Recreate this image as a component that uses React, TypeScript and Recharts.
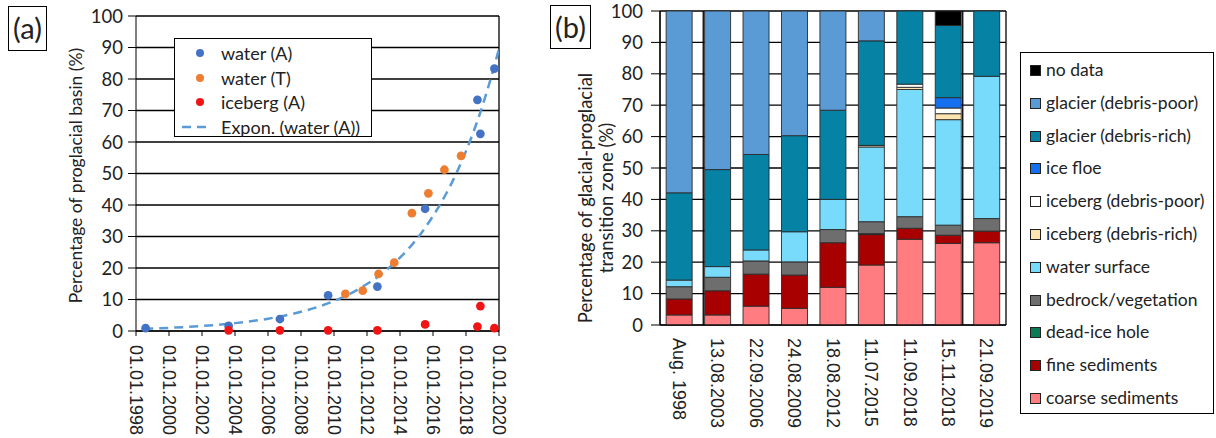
import React from 'react';
import {
  ComposedChart, Scatter, Line, XAxis, YAxis, ZAxis, CartesianGrid, ReferenceLine,
  BarChart, Bar,
} from 'recharts';

// ---------- Panel (a) data ----------
const yearTicks = [1998, 2000, 2002, 2004, 2006, 2008, 2010, 2012, 2014, 2016, 2018, 2020];
const pctTicks = [0, 10, 20, 30, 40, 50, 60, 70, 80, 90, 100];

const waterADates = ['1998-08-01', '2003-08-13', '2006-09-22', '2009-08-24', '2012-08-18', '2015-07-11', '2018-09-11', '2018-11-15', '2019-09-21'];
const waterAValues = [0.9, 1.6, 3.8, 11.3, 14.1, 38.8, 73.4, 62.6, 83.3];

const icebergADates = ['2003-08-13', '2006-09-22', '2009-08-24', '2012-08-18', '2015-07-11', '2018-09-11', '2018-11-15', '2019-09-21'];
const icebergAValues = [0.2, 0.2, 0.2, 0.2, 2.1, 1.4, 7.9, 0.9];

const waterTYears = [2010.69, 2011.74, 2012.70, 2013.65, 2014.72, 2015.72, 2016.69, 2017.70];
const waterTValues = [11.8, 12.8, 18.1, 21.7, 37.4, 43.7, 51.2, 55.6];

const trendYears = [1998.5, 2000, 2002, 2004, 2006, 2008, 2009, 2010, 2011, 2012, 2013, 2014, 2015, 2016, 2017, 2018, 2019, 2020];
const trendValues = [0.7, 1.0, 1.6, 2.5, 3.9, 6.1, 7.6, 9.5, 11.9, 14.9, 18.6, 23.3, 29.1, 36.5, 45.6, 57.1, 71.5, 89.5];

// ---------- Panel (b) data ----------
const barDates = ['Aug. 1998', '13.08.2003', '22.09.2006', '24.08.2009', '18.08.2012', '11.07.2015', '11.09.2018', '15.11.2018', '21.09.2019'];
const coarse = [3.2, 3.2, 6.0, 5.3, 12.0, 19.1, 27.3, 26.0, 26.2];
const fine = [5.1, 7.7, 10.2, 10.6, 14.2, 9.7, 3.5, 2.6, 3.7];
const deadIce = [0, 0, 0, 0, 0, 0.3, 0, 0, 0];
const bedrock = [3.9, 4.3, 4.2, 4.2, 4.2, 3.8, 3.7, 3.2, 4.0];
const waterSurface = [2.1, 3.4, 3.5, 9.6, 9.6, 23.8, 40.5, 33.6, 45.3];
const icebergRich = [0, 0, 0, 0, 0, 0.5, 0.7, 1.9, 0];
const icebergPoor = [0, 0, 0, 0, 0, 0, 1.0, 1.8, 0];
const iceFloe = [0, 0, 0, 0, 0, 0, 0, 3.3, 0];
const glacierRich = [27.8, 30.9, 30.4, 30.6, 28.4, 33.3, 23.3, 23.0, 20.8];
const glacierPoor = [57.9, 50.5, 45.7, 39.7, 31.6, 9.5, 0, 0, 0];
const noData = [0, 0, 0, 0, 0, 0, 0, 4.6, 0];

const gridBoundaries = [0, 1, 2, 3, 4, 5, 6, 7, 8, 9];

// stack order bottom -> top
const classes = [
  { key: 'coarse', name: 'coarse sediments', color: '#FF7C80', values: coarse },
  { key: 'fine', name: 'fine sediments', color: '#A80000', values: fine },
  { key: 'deadIce', name: 'dead-ice hole', color: '#0B7A55', values: deadIce },
  { key: 'bedrock', name: 'bedrock/vegetation', color: '#6E6E6E', values: bedrock },
  { key: 'water', name: 'water surface', color: '#79DBFC', values: waterSurface },
  { key: 'ibRich', name: 'iceberg (debris-rich)', color: '#FDE4B0', values: icebergRich },
  { key: 'ibPoor', name: 'iceberg (debris-poor)', color: '#FFFFFF', values: icebergPoor },
  { key: 'floe', name: 'ice floe', color: '#1570EF', values: iceFloe },
  { key: 'gRich', name: 'glacier (debris-rich)', color: '#0582A4', values: glacierRich },
  { key: 'gPoor', name: 'glacier (debris-poor)', color: '#5B9BD5', values: glacierPoor },
  { key: 'noData', name: 'no data', color: '#000000', values: noData },
];

const toYear = (s: string) => {
  const [y, m, d] = s.split('-').map(Number);
  const start = Date.UTC(y, 0, 1);
  const end = Date.UTC(y + 1, 0, 1);
  return y + (Date.UTC(y, m - 1, d) - start) / (end - start);
};

const waterA = waterADates.map((d, i) => ({ x: toYear(d), y: waterAValues[i] }));
const icebergA = icebergADates.map((d, i) => ({ x: toYear(d), y: icebergAValues[i] }));
const waterT = waterTYears.map((x, i) => ({ x, y: waterTValues[i] }));
const trend = trendYears.map((x, i) => ({ x, y: trendValues[i] }));

const barRows = barDates.map((date, i) => {
  const row: Record<string, any> = { date };
  classes.forEach((c) => { row[c.key] = c.values[i]; });
  return row;
});

const SANS = 'Lato, "Open Sans", sans-serif';
const ARIAL = '"Liberation Sans", Arial, sans-serif';
const TXT = '#222';

const RotTick = (offset: number, fmt: (v: any) => string) => (props: any) => {
  const { x, y, payload } = props;
  return (
    <g transform={`translate(${x},${y}) rotate(90)`}>
      <text x={offset} y={0} dy="0.35em" textAnchor="start" fontFamily={ARIAL} fontSize={18} fill={TXT}>
        {fmt(payload.value)}
      </text>
    </g>
  );
};

const DateTick = RotTick(9, (v) => `01.01.${v}`);
const CatTick = RotTick(13, (v) => String(v));

const YLabelA = (props: any) => {
  const vb = props.viewBox || { x: 0, y: 0, width: 0, height: 0 };
  const cx = 76;
  const cy = vb.y + vb.height / 2 + 2;
  return (
    <text x={cx} y={cy} transform={`rotate(-90 ${cx} ${cy})`} textAnchor="middle" dy="0.35em" fontFamily={SANS} fontSize={17.5} fill={TXT}>
      Percentage of proglacial basin (%)
    </text>
  );
};

const YLabelB = (props: any) => {
  const vb = props.viewBox || { x: 0, y: 0, width: 0, height: 0 };
  const cy = vb.y + vb.height / 2 + 30;
  const x1 = 46;
  const x2 = 67;
  return (
    <g>
      <text x={x1} y={cy} transform={`rotate(-90 ${x1} ${cy})`} textAnchor="middle" dy="0.35em" fontFamily={SANS} fontSize={18.5} fill={TXT}>
        Percentage of glacial-proglacial
      </text>
      <text x={x2} y={cy} transform={`rotate(-90 ${x2} ${cy})`} textAnchor="middle" dy="0.35em" fontFamily={SANS} fontSize={18.5} fill={TXT}>
        transition zone (%)
      </text>
    </g>
  );
};

const legendA = [
  { name: 'water (A)', color: '#4472C4', kind: 'dot' },
  { name: 'water (T)', color: '#ED7D31', kind: 'dot' },
  { name: 'iceberg (A)', color: '#F01414', kind: 'dot' },
  { name: 'Expon. (water (A))', color: '#5B9BD5', kind: 'dash' },
];

export default function App() {
  const tickStyle = { fontFamily: SANS, fontSize: 18.5, fill: TXT };
  return (
    <div style={{ position: 'absolute', left: 0, top: 0, width: 1216, height: 438, background: '#fff', overflow: 'hidden', fontFamily: SANS }}>
      {/* Panel (a) */}
      <div style={{ position: 'absolute', left: 0, top: 0 }}>
        <ComposedChart width={520} height={438} margin={{ top: 16, right: 21, bottom: 0, left: 0 }}>
          <CartesianGrid vertical={false} stroke="#000" strokeWidth={1.3} />
          <XAxis
            type="number" dataKey="x" domain={[1998, 2020]} ticks={yearTicks} interval={0}
            height={107} tickSize={5} tickMargin={0} tick={<DateTick />}
            stroke="#000" allowDataOverflow
          />
          <YAxis
            type="number" dataKey="y" domain={[0, 100]} ticks={pctTicks} interval={0}
            width={136} tickSize={8} tickMargin={5} tick={tickStyle} stroke="#000"
            label={<YLabelA />}
          />
          <ZAxis range={[60, 60]} />
          <ReferenceLine x={2020} stroke="#000" strokeWidth={1.3} />
          <Line data={trend} dataKey="y" type="monotone" stroke="#5B9BD5" strokeWidth={2.5} strokeDasharray="9 6" dot={false} isAnimationActive={false} />
          <Scatter data={waterA} dataKey="y" fill="#4472C4" isAnimationActive={false} />
          <Scatter data={waterT} dataKey="y" fill="#ED7D31" isAnimationActive={false} />
          <Scatter data={icebergA} dataKey="y" fill="#F01414" isAnimationActive={false} />
        </ComposedChart>
      </div>

      {/* Legend (a) */}
      <div style={{ position: 'absolute', left: 174, top: 38, width: 196, height: 97, border: '1.5px solid #000', background: '#fff' }}>
        {legendA.map((it, i) => (
          <div key={it.name} style={{ position: 'absolute', left: 0, top: 2 + i * 24.5, height: 24, width: 196 }}>
            {it.kind === 'dot' ? (
              <div style={{ position: 'absolute', left: 21, top: 8, width: 8, height: 8, borderRadius: 4, background: it.color }} />
            ) : (
              <svg style={{ position: 'absolute', left: 7, top: 10 }} width={30} height={4}>
                <line x1={0} y1={2} x2={30} y2={2} stroke={it.color} strokeWidth={2.5} strokeDasharray="9 6" />
              </svg>
            )}
            <div style={{ position: 'absolute', left: 46, top: 0, lineHeight: '24px', fontSize: 18, color: TXT, whiteSpace: 'nowrap' }}>{it.name}</div>
          </div>
        ))}
      </div>

      {/* Panel label (a) */}
      <div style={{ position: 'absolute', left: 8, top: 6, width: 37, height: 43, border: '1.5px solid #000', fontSize: 29, lineHeight: '42px', textAlign: 'center', color: TXT }}>(a)</div>

      {/* Panel (b) */}
      <div style={{ position: 'absolute', left: 540, top: 0 }}>
        <BarChart width={480} height={438} data={barRows} margin={{ top: 11, right: 14, bottom: 0, left: 0 }} barCategoryGap="16%">
          <CartesianGrid xAxisId="grid" stroke="#000" strokeWidth={1.3} />
          <XAxis
            xAxisId="grid" type="number" domain={[0, 9]} ticks={gridBoundaries} interval={0}
            height={0} tickSize={7} tickFormatter={() => ''} axisLine={false} stroke="#000"
          />
          <XAxis
            dataKey="date" height={113} tickLine={false} tickSize={0} tickMargin={0} interval={0}
            tick={<CatTick />} stroke="#000"
          />
          <YAxis
            type="number" domain={[0, 100]} ticks={pctTicks} interval={0}
            width={120} tickSize={9} tickMargin={8} tick={tickStyle} stroke="#000"
            label={<YLabelB />}
          />
          {classes.map((c) => (
            <Bar key={c.key} dataKey={c.key} name={c.name} stackId="s" fill={c.color} stroke="#2a2a2a" strokeWidth={0.9} isAnimationActive={false} />
          ))}
        </BarChart>
      </div>

      {/* Panel label (b) */}
      <div style={{ position: 'absolute', left: 550, top: 5, width: 39, height: 42, border: '1.5px solid #000', fontSize: 29, lineHeight: '41px', textAlign: 'center', color: TXT }}>(b)</div>

      {/* Legend (b) */}
      <div style={{ position: 'absolute', left: 1020, top: 52, width: 192, height: 360, border: '1.5px solid #000', background: '#fff' }}>
        {[...classes].reverse().map((c, i) => (
          <div key={c.key} style={{ position: 'absolute', left: 0, top: 5 + i * 32.8, height: 24, width: 192 }}>
            <div style={{ position: 'absolute', left: 9, top: 7, width: 9, height: 9, border: '1px solid #222', background: c.color }} />
            <div style={{ position: 'absolute', left: 25, top: 0, lineHeight: '24px', fontSize: 17.5, color: TXT, whiteSpace: 'nowrap' }}>{c.name}</div>
          </div>
        ))}
      </div>
    </div>
  );
}
